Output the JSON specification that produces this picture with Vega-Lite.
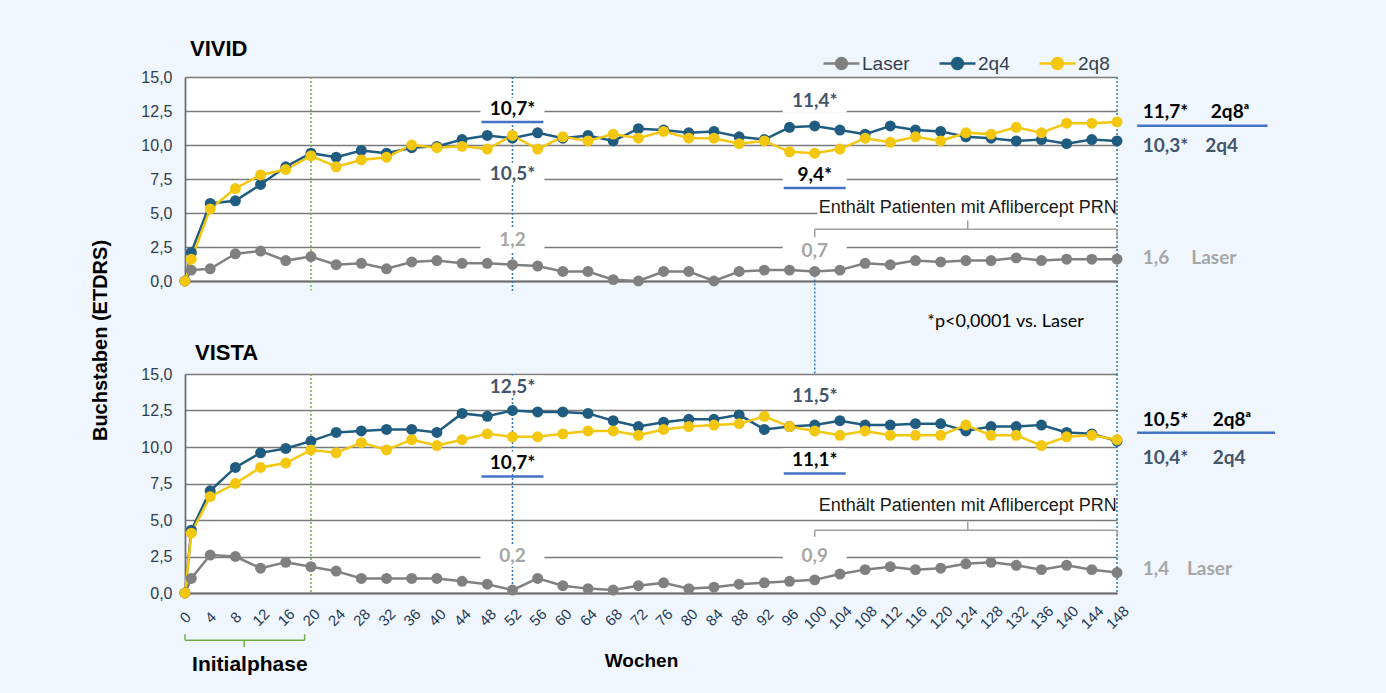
{
  "$schema": "https://vega.github.io/schema/vega-lite/v6.json",
  "background": "#f0f6fd",
  "padding": {"left": 90, "top": 38, "right": 111, "bottom": 19},
  "autosize": {"type": "pad"},
  "spacing": 93,
  "bounds": "flush",
  "config": {
    "view": {"stroke": null, "fill": "#ffffff"},
    "axis": {"gridColor": "#7a7a7a", "gridWidth": 1.5, "domainColor": "#6e6e6e", "domainWidth": 1.8, "ticks": false, "labelFont": "Liberation Sans", "titleFont": "Liberation Sans"},
    "title": {"font": "Liberation Sans", "fontWeight": "bold", "color": "#000000", "anchor": "start", "frame": "group", "fontSize": 22, "baseline": "alphabetic"}
  },
  "datasets": {
    "vivid": [
      {"week": 0, "Laser": 0, "2q4": 0, "2q8": 0},
      {"week": 1, "Laser": 0.8, "2q4": 2.1, "2q8": 1.6},
      {"week": 4, "Laser": 0.9, "2q4": 5.7, "2q8": 5.3},
      {"week": 8, "Laser": 2.0, "2q4": 5.9, "2q8": 6.8},
      {"week": 12, "Laser": 2.2, "2q4": 7.1, "2q8": 7.8},
      {"week": 16, "Laser": 1.5, "2q4": 8.4, "2q8": 8.2},
      {"week": 20, "Laser": 1.8, "2q4": 9.4, "2q8": 9.2},
      {"week": 24, "Laser": 1.2, "2q4": 9.1, "2q8": 8.4},
      {"week": 28, "Laser": 1.3, "2q4": 9.6, "2q8": 8.9},
      {"week": 32, "Laser": 0.9, "2q4": 9.4, "2q8": 9.1},
      {"week": 36, "Laser": 1.4, "2q4": 9.8, "2q8": 10.0},
      {"week": 40, "Laser": 1.5, "2q4": 9.9, "2q8": 9.8},
      {"week": 44, "Laser": 1.3, "2q4": 10.4, "2q8": 9.9},
      {"week": 48, "Laser": 1.3, "2q4": 10.7, "2q8": 9.7},
      {"week": 52, "Laser": 1.2, "2q4": 10.5, "2q8": 10.7},
      {"week": 56, "Laser": 1.1, "2q4": 10.9, "2q8": 9.7},
      {"week": 60, "Laser": 0.7, "2q4": 10.5, "2q8": 10.6},
      {"week": 64, "Laser": 0.7, "2q4": 10.7, "2q8": 10.3},
      {"week": 68, "Laser": 0.1, "2q4": 10.3, "2q8": 10.8},
      {"week": 72, "Laser": 0.0, "2q4": 11.2, "2q8": 10.5},
      {"week": 76, "Laser": 0.7, "2q4": 11.1, "2q8": 11.0},
      {"week": 80, "Laser": 0.7, "2q4": 10.9, "2q8": 10.5},
      {"week": 84, "Laser": 0.0, "2q4": 11.0, "2q8": 10.5},
      {"week": 88, "Laser": 0.7, "2q4": 10.6, "2q8": 10.1},
      {"week": 92, "Laser": 0.8, "2q4": 10.4, "2q8": 10.3},
      {"week": 96, "Laser": 0.8, "2q4": 11.3, "2q8": 9.5},
      {"week": 100, "Laser": 0.7, "2q4": 11.4, "2q8": 9.4},
      {"week": 104, "Laser": 0.8, "2q4": 11.1, "2q8": 9.7},
      {"week": 108, "Laser": 1.3, "2q4": 10.8, "2q8": 10.5},
      {"week": 112, "Laser": 1.2, "2q4": 11.4, "2q8": 10.2},
      {"week": 116, "Laser": 1.5, "2q4": 11.1, "2q8": 10.6},
      {"week": 120, "Laser": 1.4, "2q4": 11.0, "2q8": 10.3},
      {"week": 124, "Laser": 1.5, "2q4": 10.6, "2q8": 10.9},
      {"week": 128, "Laser": 1.5, "2q4": 10.5, "2q8": 10.8},
      {"week": 132, "Laser": 1.7, "2q4": 10.3, "2q8": 11.3},
      {"week": 136, "Laser": 1.5, "2q4": 10.4, "2q8": 10.9},
      {"week": 140, "Laser": 1.6, "2q4": 10.1, "2q8": 11.6},
      {"week": 144, "Laser": 1.6, "2q4": 10.4, "2q8": 11.6},
      {"week": 148, "Laser": 1.6, "2q4": 10.3, "2q8": 11.7}
    ],
    "vista": [
      {"week": 0, "Laser": 0, "2q4": 0, "2q8": 0},
      {"week": 1, "Laser": 1.0, "2q4": 4.3, "2q8": 4.1},
      {"week": 4, "Laser": 2.6, "2q4": 7.0, "2q8": 6.6},
      {"week": 8, "Laser": 2.5, "2q4": 8.6, "2q8": 7.5},
      {"week": 12, "Laser": 1.7, "2q4": 9.6, "2q8": 8.6},
      {"week": 16, "Laser": 2.1, "2q4": 9.9, "2q8": 8.9},
      {"week": 20, "Laser": 1.8, "2q4": 10.4, "2q8": 9.8},
      {"week": 24, "Laser": 1.5, "2q4": 11.0, "2q8": 9.6},
      {"week": 28, "Laser": 1.0, "2q4": 11.1, "2q8": 10.3},
      {"week": 32, "Laser": 1.0, "2q4": 11.2, "2q8": 9.8},
      {"week": 36, "Laser": 1.0, "2q4": 11.2, "2q8": 10.5},
      {"week": 40, "Laser": 1.0, "2q4": 11.0, "2q8": 10.1},
      {"week": 44, "Laser": 0.8, "2q4": 12.3, "2q8": 10.5},
      {"week": 48, "Laser": 0.6, "2q4": 12.1, "2q8": 10.9},
      {"week": 52, "Laser": 0.2, "2q4": 12.5, "2q8": 10.7},
      {"week": 56, "Laser": 1.0, "2q4": 12.4, "2q8": 10.7},
      {"week": 60, "Laser": 0.5, "2q4": 12.4, "2q8": 10.9},
      {"week": 64, "Laser": 0.3, "2q4": 12.3, "2q8": 11.1},
      {"week": 68, "Laser": 0.2, "2q4": 11.8, "2q8": 11.1},
      {"week": 72, "Laser": 0.5, "2q4": 11.4, "2q8": 10.8},
      {"week": 76, "Laser": 0.7, "2q4": 11.7, "2q8": 11.2},
      {"week": 80, "Laser": 0.3, "2q4": 11.9, "2q8": 11.4},
      {"week": 84, "Laser": 0.4, "2q4": 11.9, "2q8": 11.5},
      {"week": 88, "Laser": 0.6, "2q4": 12.2, "2q8": 11.6},
      {"week": 92, "Laser": 0.7, "2q4": 11.2, "2q8": 12.1},
      {"week": 96, "Laser": 0.8, "2q4": 11.4, "2q8": 11.4},
      {"week": 100, "Laser": 0.9, "2q4": 11.5, "2q8": 11.1},
      {"week": 104, "Laser": 1.3, "2q4": 11.8, "2q8": 10.8},
      {"week": 108, "Laser": 1.6, "2q4": 11.5, "2q8": 11.1},
      {"week": 112, "Laser": 1.8, "2q4": 11.5, "2q8": 10.8},
      {"week": 116, "Laser": 1.6, "2q4": 11.6, "2q8": 10.8},
      {"week": 120, "Laser": 1.7, "2q4": 11.6, "2q8": 10.8},
      {"week": 124, "Laser": 2.0, "2q4": 11.1, "2q8": 11.5},
      {"week": 128, "Laser": 2.1, "2q4": 11.4, "2q8": 10.8},
      {"week": 132, "Laser": 1.9, "2q4": 11.4, "2q8": 10.8},
      {"week": 136, "Laser": 1.6, "2q4": 11.5, "2q8": 10.1},
      {"week": 140, "Laser": 1.9, "2q4": 11.0, "2q8": 10.7},
      {"week": 144, "Laser": 1.6, "2q4": 10.9, "2q8": 10.8},
      {"week": 148, "Laser": 1.4, "2q4": 10.4, "2q8": 10.5}
    ],
    "vividLabels": [
      {"week": 52, "value": 12.65, "group": "2q8", "label": "10,7*"},
      {"week": 52, "value": 7.87, "group": "2q4", "label": "10,5*"},
      {"week": 52, "value": 3.0, "group": "Laser", "label": "1,2"},
      {"week": 100, "value": 13.2, "group": "2q4", "label": "11,4*"},
      {"week": 100, "value": 7.8, "group": "2q8", "label": "9,4*"},
      {"week": 100, "value": 2.24, "group": "Laser", "label": "0,7"}
    ],
    "vividRight": [
      {"week": 152.1, "value": 12.39, "group": "2q8", "label": "11,7*"},
      {"week": 162.9, "value": 12.39, "group": "2q8", "label": "2q8ᵃ"},
      {"week": 152.1, "value": 9.93, "group": "2q4", "label": "10,3*"},
      {"week": 162.0, "value": 9.93, "group": "2q4", "label": "2q4"},
      {"week": 152.1, "value": 1.69, "group": "Laser", "label": "1,6"},
      {"week": 159.8, "value": 1.69, "group": "Laser", "label": "Laser"}
    ],
    "vistaLabels": [
      {"week": 52, "value": 14.13, "group": "2q4", "label": "12,5*"},
      {"week": 52, "value": 8.93, "group": "2q8", "label": "10,7*"},
      {"week": 52, "value": 2.55, "group": "Laser", "label": "0,2"},
      {"week": 100, "value": 13.5, "group": "2q4", "label": "11,5*"},
      {"week": 100, "value": 9.14, "group": "2q8", "label": "11,1*"},
      {"week": 100, "value": 2.55, "group": "Laser", "label": "0,9"}
    ],
    "vistaRight": [
      {"week": 152.1, "value": 11.84, "group": "2q8", "label": "10,5*"},
      {"week": 163.2, "value": 11.84, "group": "2q8", "label": "2q8ᵃ"},
      {"week": 152.1, "value": 9.22, "group": "2q4", "label": "10,4*"},
      {"week": 163.2, "value": 9.22, "group": "2q4", "label": "2q4"},
      {"week": 152.1, "value": 1.63, "group": "Laser", "label": "1,4"},
      {"week": 159.1, "value": 1.63, "group": "Laser", "label": "Laser"}
    ]
  },
  "vconcat": [
    {
      "width": 932,
      "height": 204,
      "title": {"text": "VIVID", "offset": 8, "dx": 5},
      "layer": [
        {
          "data": {"values": [{}]},
          "mark": {"type": "rule", "color": "#70ad47", "strokeWidth": 1.5, "strokeDash": [2, 2]},
          "encoding": {"x": {"datum": 20}, "y": {"datum": 15}, "y2": {"datum": -0.7}}
        },
        {
          "data": {"values": [{}]},
          "mark": {"type": "rule", "color": "#2e75b6", "strokeWidth": 1.5, "strokeDash": [2, 2]},
          "encoding": {"x": {"datum": 52}, "y": {"datum": 15}, "y2": {"datum": -0.9}}
        },
        {
          "data": {"values": [{}]},
          "mark": {"type": "rule", "color": "#2e75b6", "strokeWidth": 1.5, "strokeDash": [2, 2]},
          "encoding": {"x": {"datum": 100}, "y": {"datum": 0.7}, "y2": {"datum": -6.84}}
        },
        {
          "data": {"values": [{}]},
          "mark": {"type": "rule", "color": "#2e75b6", "strokeWidth": 1.5, "strokeDash": [2, 2]},
          "encoding": {"x": {"datum": 148}, "y": {"datum": 15}, "y2": {"datum": -6.84}}
        },
        {
          "data": {"name": "vividLabels"},
          "mark": {"type": "point", "shape": "M-1,-0.35L1,-0.35L1,0.35L-1,0.35Z", "size": 4096, "filled": true, "color": "#ffffff", "opacity": 1, "strokeWidth": 0},
          "encoding": {"x": {"field": "week", "type": "quantitative"}, "y": {"field": "value", "type": "quantitative"}}
        },
        {
          "data": {"values": [{}]},
          "mark": {"type": "point", "shape": "M-1,-0.055L1,-0.055L1,0.055L-1,0.055Z", "size": 88000, "filled": true, "color": "#ffffff", "opacity": 1, "strokeWidth": 0},
          "encoding": {"x": {"datum": 124}, "y": {"datum": 5.4}}
        },
        {
          "data": {"values": [{}]},
          "mark": {"type": "rule", "color": "#a0a0a0", "strokeWidth": 1.5},
          "encoding": {"x": {"datum": 100}, "x2": {"datum": 148}, "y": {"datum": 3.8}}
        },
        {
          "data": {"values": [{}]},
          "mark": {"type": "rule", "color": "#a0a0a0", "strokeWidth": 1.5},
          "encoding": {"x": {"datum": 100}, "y": {"datum": 3.8}, "y2": {"datum": 3.2}}
        },
        {
          "data": {"values": [{}]},
          "mark": {"type": "rule", "color": "#a0a0a0", "strokeWidth": 1.5},
          "encoding": {"x": {"datum": 148}, "y": {"datum": 3.8}, "y2": {"datum": 3.2}}
        },
        {
          "data": {"values": [{}]},
          "mark": {"type": "rule", "color": "#a0a0a0", "strokeWidth": 1.5},
          "encoding": {"x": {"datum": 124.3}, "y": {"datum": 3.8}, "y2": {"datum": 4.45}}
        },
        {
          "data": {"name": "vivid"},
          "transform": [{"fold": ["Laser", "2q4", "2q8"], "as": ["group", "value"]}],
          "mark": {"type": "line", "strokeWidth": 2.5, "point": {"filled": true, "size": 120, "opacity": 1}},
          "encoding": {
            "x": {"field": "week", "type": "quantitative", "scale": {"domain": [0, 148], "nice": false, "zero": false},
              "axis": {"values": [0, 4, 8, 12, 16, 20, 24, 28, 32, 36, 40, 44, 48, 52, 56, 60, 64, 68, 72, 76, 80, 84, 88, 92, 96, 100, 104, 108, 112, 116, 120, 124, 128, 132, 136, 140, 144, 148], "tickCount": 60, "labels": false, "grid": false, "domain": true, "title": null}},
            "y": {"field": "value", "type": "quantitative", "scale": {"domain": [0, 15], "nice": false},
              "axis": {"values": [0, 2.5, 5, 7.5, 10, 12.5, 15], "tickCount": 20, "labelOverlap": false, "labelExpr": "replace(format(datum.value, '.1f'), '.', ',')", "labelFontSize": 16, "labelColor": "#2f3d4f", "labelPadding": 13, "grid": true,
                "title": "Buchstaben (ETDRS)", "titleFontSize": 20, "titleFontWeight": "bold", "titleColor": "#000000", "titleX": -85, "titleY": 263, "titleAngle": 270, "titleAlign": "center", "titleBaseline": "middle"}},
            "color": {"field": "group", "type": "nominal", "scale": {"domain": ["Laser", "2q4", "2q8"], "range": ["#808080", "#1f5c80", "#f4c70f"]},
              "legend": {"orient": "none", "legendX": 637, "legendY": -33, "direction": "horizontal", "title": null, "gridAlign": "none",
                "symbolType": "M-1,0L1,0M-0.3,0A0.3,0.3,0,1,1,0.3,0A0.3,0.3,0,1,1,-0.3,0Z", "symbolSize": 1296, "symbolStrokeWidth": 2.5,
                "labelFont": "Liberation Sans", "labelFontSize": 19, "labelColor": "#333f50", "labelOffset": 1, "columnPadding": 24,
                "encode": {"symbols": {"update": {"fill": {"signal": "datum.value === 'Laser' ? '#808080' : datum.value === '2q4' ? '#1f5c80' : '#f4c70f'"}, "opacity": {"value": 1}}}}}}
          }
        },
        {
          "data": {"name": "vividLabels"},
          "mark": {"type": "text", "font": "Lato", "fontWeight": "bold", "fontSize": 19, "align": "center", "baseline": "middle"},
          "encoding": {
            "x": {"field": "week", "type": "quantitative"},
            "y": {"field": "value", "type": "quantitative"},
            "text": {"field": "label"},
            "fill": {"field": "group", "type": "nominal", "scale": {"domain": ["2q8", "2q4", "Laser"], "range": ["#000000", "#44546a", "#a6a6a6"]}, "legend": null}
          }
        },
        {
          "data": {"name": "vividLabels"},
          "transform": [{"filter": "datum.group === '2q8'"}],
          "mark": {"type": "point", "shape": "M-1,0L1,0", "size": 3844, "filled": false, "stroke": "#4472c4", "strokeWidth": 2.5, "opacity": 1, "yOffset": 13},
          "encoding": {"x": {"field": "week", "type": "quantitative"}, "y": {"field": "value", "type": "quantitative"}}
        },
        {
          "data": {"name": "vividRight"},
          "mark": {"type": "text", "font": "Lato", "fontWeight": "bold", "fontSize": 19, "align": "left", "baseline": "middle"},
          "encoding": {
            "x": {"field": "week", "type": "quantitative"},
            "y": {"field": "value", "type": "quantitative"},
            "text": {"field": "label"},
            "fill": {"field": "group", "type": "nominal", "scale": {"domain": ["2q8", "2q4", "Laser"], "range": ["#000000", "#44546a", "#a6a6a6"]}, "legend": null}
          }
        },
        {
          "data": {"values": [{}]},
          "mark": {"type": "rule", "color": "#4472c4", "strokeWidth": 2.5},
          "encoding": {"x": {"datum": 151.2}, "x2": {"datum": 171.9}, "y": {"datum": 11.42}}
        },
        {
          "data": {"values": [{}]},
          "mark": {"type": "text", "text": "Enthält Patienten mit Aflibercept PRN", "font": "Liberation Sans", "fontSize": 18, "color": "#1a1a1a", "align": "center", "baseline": "middle"},
          "encoding": {"x": {"datum": 124.3}, "y": {"datum": 5.4}}
        },
        {
          "data": {"values": [{}]},
          "mark": {"type": "text", "text": "*p<0,0001 vs. Laser", "font": "Lato", "fontSize": 18, "color": "#000000", "align": "center", "baseline": "middle"},
          "encoding": {"x": {"datum": 130.3}, "y": {"datum": -3.0}}
        }
      ]
    },
    {
      "width": 932,
      "height": 219,
      "title": {"text": "VISTA", "offset": 1, "dx": 10},
      "layer": [
        {
          "data": {"values": [{}]},
          "mark": {"type": "rule", "color": "#70ad47", "strokeWidth": 1.5, "strokeDash": [2, 2]},
          "encoding": {"x": {"datum": 20}, "y": {"datum": 15}, "y2": {"datum": 0}}
        },
        {
          "data": {"values": [{}]},
          "mark": {"type": "rule", "color": "#2e75b6", "strokeWidth": 1.5, "strokeDash": [2, 2]},
          "encoding": {"x": {"datum": 52}, "y": {"datum": 15}, "y2": {"datum": 0}}
        },
        {
          "data": {"values": [{}]},
          "mark": {"type": "rule", "color": "#2e75b6", "strokeWidth": 1.5, "strokeDash": [2, 2]},
          "encoding": {"x": {"datum": 148}, "y": {"datum": 15}, "y2": {"datum": 0}}
        },
        {
          "data": {"name": "vistaLabels"},
          "mark": {"type": "point", "shape": "M-1,-0.35L1,-0.35L1,0.35L-1,0.35Z", "size": 4096, "filled": true, "color": "#ffffff", "opacity": 1, "strokeWidth": 0},
          "encoding": {"x": {"field": "week", "type": "quantitative"}, "y": {"field": "value", "type": "quantitative"}}
        },
        {
          "data": {"values": [{}]},
          "mark": {"type": "rule", "color": "#a0a0a0", "strokeWidth": 1.5},
          "encoding": {"x": {"datum": 100}, "x2": {"datum": 148}, "y": {"datum": 4.3}}
        },
        {
          "data": {"values": [{}]},
          "mark": {"type": "rule", "color": "#a0a0a0", "strokeWidth": 1.5},
          "encoding": {"x": {"datum": 100}, "y": {"datum": 4.3}, "y2": {"datum": 3.84}}
        },
        {
          "data": {"values": [{}]},
          "mark": {"type": "rule", "color": "#a0a0a0", "strokeWidth": 1.5},
          "encoding": {"x": {"datum": 148}, "y": {"datum": 4.3}, "y2": {"datum": 3.84}}
        },
        {
          "data": {"values": [{}]},
          "mark": {"type": "rule", "color": "#a0a0a0", "strokeWidth": 1.5},
          "encoding": {"x": {"datum": 124.3}, "y": {"datum": 4.3}, "y2": {"datum": 4.87}}
        },
        {
          "data": {"values": [{}]},
          "mark": {"type": "rule", "color": "#70ad47", "strokeWidth": 1.5},
          "encoding": {"x": {"datum": 0}, "x2": {"datum": 19}, "y": {"datum": -3.24}}
        },
        {
          "data": {"values": [{}]},
          "mark": {"type": "rule", "color": "#70ad47", "strokeWidth": 1.5},
          "encoding": {"x": {"datum": 0}, "y": {"datum": -3.24}, "y2": {"datum": -2.83}}
        },
        {
          "data": {"values": [{}]},
          "mark": {"type": "rule", "color": "#70ad47", "strokeWidth": 1.5},
          "encoding": {"x": {"datum": 19}, "y": {"datum": -3.24}, "y2": {"datum": -2.83}}
        },
        {
          "data": {"values": [{}]},
          "mark": {"type": "rule", "color": "#70ad47", "strokeWidth": 1.5},
          "encoding": {"x": {"datum": 9.4}, "y": {"datum": -3.24}, "y2": {"datum": -3.7}}
        },
        {
          "data": {"name": "vista"},
          "transform": [{"fold": ["Laser", "2q4", "2q8"], "as": ["group", "value"]}],
          "mark": {"type": "line", "strokeWidth": 2.5, "point": {"filled": true, "size": 120, "opacity": 1}},
          "encoding": {
            "x": {"field": "week", "type": "quantitative", "scale": {"domain": [0, 148], "nice": false, "zero": false},
              "axis": {"values": [0, 4, 8, 12, 16, 20, 24, 28, 32, 36, 40, 44, 48, 52, 56, 60, 64, 68, 72, 76, 80, 84, 88, 92, 96, 100, 104, 108, 112, 116, 120, 124, 128, 132, 136, 140, 144, 148], "tickCount": 60,
                "labelAngle": -45, "labelAlign": "center", "labelBaseline": "middle", "labelPadding": 24, "labelFontSize": 15, "labelColor": "#1f3b57",
                "labelOverlap": false, "labelBound": false, "labelFlush": false, "grid": false, "domain": true,
                "title": "Wochen", "titleFontSize": 19, "titleFontWeight": "bold", "titleColor": "#000000", "titleX": 456, "titleY": 67, "titleBaseline": "middle", "titleAlign": "center"}},
            "y": {"field": "value", "type": "quantitative", "scale": {"domain": [0, 15], "nice": false},
              "axis": {"values": [0, 2.5, 5, 7.5, 10, 12.5, 15], "tickCount": 20, "labelOverlap": false, "labelExpr": "replace(format(datum.value, '.1f'), '.', ',')", "labelFontSize": 16, "labelColor": "#2f3d4f", "labelPadding": 13, "grid": true, "title": null}},
            "color": {"field": "group", "type": "nominal", "scale": {"domain": ["Laser", "2q4", "2q8"], "range": ["#808080", "#1f5c80", "#f4c70f"]}}
          }
        },
        {
          "data": {"name": "vistaLabels"},
          "mark": {"type": "text", "font": "Lato", "fontWeight": "bold", "fontSize": 19, "align": "center", "baseline": "middle"},
          "encoding": {
            "x": {"field": "week", "type": "quantitative"},
            "y": {"field": "value", "type": "quantitative"},
            "text": {"field": "label"},
            "fill": {"field": "group", "type": "nominal", "scale": {"domain": ["2q8", "2q4", "Laser"], "range": ["#000000", "#44546a", "#a6a6a6"]}, "legend": null}
          }
        },
        {
          "data": {"name": "vistaLabels"},
          "transform": [{"filter": "datum.group === '2q8'"}],
          "mark": {"type": "point", "shape": "M-1,0L1,0", "size": 3844, "filled": false, "stroke": "#4472c4", "strokeWidth": 2.5, "opacity": 1, "yOffset": 14},
          "encoding": {"x": {"field": "week", "type": "quantitative"}, "y": {"field": "value", "type": "quantitative"}}
        },
        {
          "data": {"name": "vistaRight"},
          "mark": {"type": "text", "font": "Lato", "fontWeight": "bold", "fontSize": 19, "align": "left", "baseline": "middle"},
          "encoding": {
            "x": {"field": "week", "type": "quantitative"},
            "y": {"field": "value", "type": "quantitative"},
            "text": {"field": "label"},
            "fill": {"field": "group", "type": "nominal", "scale": {"domain": ["2q8", "2q4", "Laser"], "range": ["#000000", "#44546a", "#a6a6a6"]}, "legend": null}
          }
        },
        {
          "data": {"values": [{}]},
          "mark": {"type": "rule", "color": "#4472c4", "strokeWidth": 2.5},
          "encoding": {"x": {"datum": 151.2}, "x2": {"datum": 173.1}, "y": {"datum": 10.97}}
        },
        {
          "data": {"values": [{}]},
          "mark": {"type": "text", "text": "Enthält Patienten mit Aflibercept PRN", "font": "Liberation Sans", "fontSize": 18, "color": "#1a1a1a", "align": "center", "baseline": "middle"},
          "encoding": {"x": {"datum": 124.3}, "y": {"datum": 5.98}}
        },
        {
          "data": {"values": [{}]},
          "mark": {"type": "text", "text": "Initialphase", "font": "Liberation Sans", "fontWeight": "bold", "fontSize": 21, "color": "#000000", "align": "center", "baseline": "middle"},
          "encoding": {"x": {"datum": 10.3}, "y": {"datum": -4.9}}
        }
      ]
    }
  ]
}
